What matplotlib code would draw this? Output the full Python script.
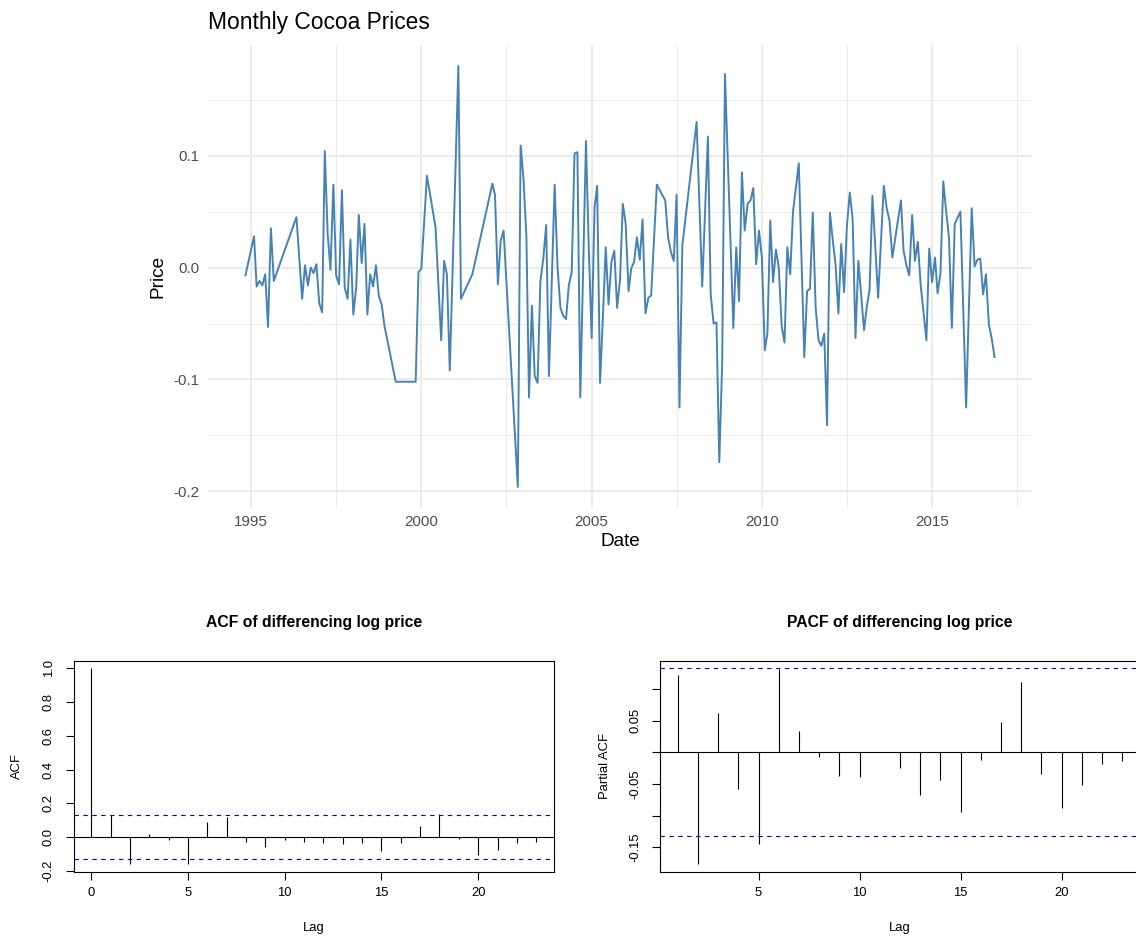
import matplotlib
matplotlib.use("Agg")
import matplotlib.pyplot as plt
import matplotlib.dates as mdates
import pandas as pd

plt.rcParams['font.family'] = ['Liberation Sans', 'DejaVu Sans']
plt.rcParams['axes.unicode_minus'] = False

# differenced log cocoa price, monthly (months absent from the source are skipped)
dates = [
    "1994-11", "1995-02", "1995-03", "1995-04", "1995-05", "1995-06", "1995-07", "1995-08", "1995-09",
    "1996-05", "1996-07", "1996-08", "1996-09", "1996-10", "1996-11", "1996-12",
    "1997-01", "1997-02", "1997-03", "1997-04", "1997-05", "1997-06", "1997-07", "1997-08", "1997-09",
    "1997-10", "1997-11", "1997-12",
    "1998-01", "1998-02", "1998-03", "1998-04", "1998-05", "1998-06", "1998-07", "1998-08", "1998-09",
    "1998-10", "1998-11", "1998-12",
    "1999-04", "1999-11", "1999-12",
    "2000-01", "2000-03", "2000-06", "2000-08", "2000-09", "2000-10", "2000-11",
    "2001-02", "2001-03", "2001-07",
    "2002-02", "2002-03", "2002-04", "2002-05", "2002-06", "2002-11", "2002-12",
    "2003-01", "2003-02", "2003-03", "2003-04", "2003-05", "2003-06", "2003-07", "2003-08", "2003-09",
    "2003-10", "2003-12",
    "2004-01", "2004-02", "2004-03", "2004-04", "2004-05", "2004-06", "2004-07", "2004-08", "2004-09",
    "2004-11", "2004-12",
    "2005-01", "2005-02", "2005-03", "2005-04", "2005-05", "2005-06", "2005-07", "2005-08", "2005-09",
    "2005-10", "2005-11", "2005-12",
    "2006-01", "2006-02", "2006-03", "2006-04", "2006-05", "2006-06", "2006-07", "2006-08", "2006-09",
    "2006-10", "2006-12",
    "2007-03", "2007-04", "2007-05", "2007-06", "2007-07", "2007-08", "2007-09",
    "2008-02", "2008-04", "2008-06", "2008-07", "2008-08", "2008-09", "2008-10", "2008-11", "2008-12",
    "2009-03", "2009-04", "2009-05", "2009-06", "2009-07", "2009-08", "2009-09", "2009-10", "2009-11",
    "2009-12",
    "2010-01", "2010-02", "2010-03", "2010-04", "2010-05", "2010-06", "2010-07", "2010-08", "2010-09",
    "2010-10", "2010-11", "2010-12",
    "2011-02", "2011-04", "2011-05", "2011-06", "2011-07", "2011-08", "2011-09", "2011-10", "2011-11",
    "2011-12",
    "2012-01", "2012-02", "2012-03", "2012-04", "2012-05", "2012-06", "2012-07", "2012-08", "2012-09",
    "2012-10", "2012-11", "2012-12",
    "2013-01", "2013-02", "2013-03", "2013-04", "2013-06", "2013-08", "2013-09", "2013-10", "2013-11",
    "2014-02", "2014-03", "2014-04", "2014-05", "2014-06", "2014-07", "2014-08", "2014-09", "2014-11",
    "2014-12",
    "2015-01", "2015-02", "2015-03", "2015-04", "2015-05", "2015-06", "2015-07", "2015-08", "2015-09",
    "2015-11",
    "2016-01", "2016-03", "2016-04", "2016-05", "2016-06", "2016-07", "2016-08", "2016-09", "2016-10",
    "2016-11",
]
price = [
    -0.007, 0.028, -0.017, -0.012, -0.016, -0.006, -0.053, 0.035, -0.012,
    0.045, -0.028, 0.002, -0.016, 0.000, -0.005, 0.003,
    -0.032, -0.040, 0.104, 0.030, -0.002, 0.074, -0.007, -0.015, 0.069,
    -0.018, -0.028, 0.025,
    -0.042, -0.018, 0.047, 0.004, 0.039, -0.042, -0.006, -0.017, 0.002,
    -0.025, -0.033, -0.052,
    -0.102, -0.102, -0.004,
    -0.001, 0.082, 0.036, -0.065, 0.006, -0.006, -0.092,
    0.180, -0.028, -0.006,
    0.075, 0.065, -0.015, 0.024, 0.033, -0.196, 0.109,
    0.079, 0.027, -0.116, -0.034, -0.097, -0.103, -0.012, 0.008, 0.038,
    -0.097, 0.074,
    0.000, -0.036, -0.043, -0.046, -0.016, -0.004, 0.102, 0.103, -0.116,
    0.113, 0.018,
    -0.063, 0.054, 0.073, -0.103, -0.045, 0.018, -0.033, 0.005, 0.015,
    -0.036, -0.011, 0.057,
    0.039, -0.021, -0.001, 0.005, 0.027, 0.007, 0.043, -0.041, -0.027,
    -0.025, 0.074,
    0.060, 0.027, 0.014, 0.006, 0.065, -0.125, 0.020,
    0.130, -0.017, 0.117, -0.024, -0.050, -0.049, -0.174, -0.086, 0.173,
    -0.054, 0.018, -0.030, 0.085, 0.033, 0.057, 0.060, 0.071, 0.003,
    0.033,
    0.009, -0.074, -0.059, 0.042, -0.013, 0.016, 0.000, -0.052, -0.067,
    0.018, -0.006, 0.050,
    0.093, -0.080, -0.021, -0.019, 0.049, -0.036, -0.065, -0.070, -0.059,
    -0.141,
    0.049, 0.024, 0.003, -0.041, 0.021, -0.022, 0.037, 0.067, 0.043,
    -0.063, 0.006, -0.024,
    -0.056, -0.034, -0.020, 0.064, -0.027, 0.073, 0.053, 0.042, 0.009,
    0.060, 0.015, 0.002, -0.007, 0.047, 0.006, 0.023, -0.016, -0.065,
    0.017,
    -0.013, 0.009, -0.023, -0.005, 0.077, 0.050, 0.027, -0.054, 0.039,
    0.050,
    -0.125, 0.053, 0.001, 0.007, 0.008, -0.024, -0.006, -0.051, -0.063,
    -0.080,
]

acf_lag = list(range(0, 24))
acf_val = [1.0, 0.128, -0.161, 0.016, -0.018, -0.161, 0.091, 0.118, -0.030, -0.057,
           -0.020, -0.030, -0.033, -0.043, -0.035, -0.083, -0.033, 0.065, 0.136, -0.014,
           -0.106, -0.075, -0.035, -0.028]
pacf_lag = list(range(1, 24))
pacf_val = [0.123, -0.177, 0.063, -0.058, -0.145, 0.132, 0.034, -0.008, -0.038, -0.039,
            0.001, -0.024, -0.067, -0.043, -0.094, -0.012, 0.048, 0.111, -0.034, -0.088,
            -0.052, -0.019, -0.014]
conf = 0.133

W, H = 1136, 939
fig = plt.figure(figsize=(W / 100, H / 100), dpi=100)


def place(left, top, right, bottom):
    return [left / W, 1 - bottom / H, (right - left) / W, (bottom - top) / H]


# ---- top: ggplot-like time series ----
ax = fig.add_axes(place(208, 45, 1032, 508))
d = pd.to_datetime(dates)
ax.plot(d, price, color='#4682B4', lw=1.4)

x0, x1 = mdates.date2num(d.min()), mdates.date2num(d.max())
ax.set_xlim(x0 - 0.05 * (x1 - x0), x1 + 0.05 * (x1 - x0))
lo, hi = min(price), max(price)
ax.set_ylim(lo - 0.05 * (hi - lo), hi + 0.05 * (hi - lo))

years = [1995, 2000, 2005, 2010, 2015]
ax.set_xticks(mdates.date2num(pd.to_datetime([f"{y}-01-01" for y in years])))
ax.set_xticklabels([str(y) for y in years])
ax.set_xticks(mdates.date2num(pd.to_datetime([f"{y + 2}-07-02" for y in years])), minor=True)
ax.set_yticks([-0.2, -0.1, 0.0, 0.1])
ax.set_yticklabels(["-0.2", "-0.1", "0.0", "0.1"])
ax.set_yticks([-0.15, -0.05, 0.05, 0.15], minor=True)

ax.grid(which='major', color='#EBEBEB', lw=1.4)
ax.grid(which='minor', color='#EBEBEB', lw=0.7)
ax.set_axisbelow(True)
for s in ax.spines.values():
    s.set_visible(False)
ax.tick_params(which='both', length=0, labelsize=10.9, labelcolor='#4D4D4D')
ax.tick_params(axis='x', pad=5)
ax.tick_params(axis='y', pad=6)
ax.set_xlabel('Date', fontsize=13.7, va='center')
ax.xaxis.set_label_coords(0.5, (508 - 541) / 463)
ax.set_ylabel('Price', fontsize=13.7, va='center')
ax.yaxis.set_label_coords((158 - 208) / 824, 0.5)
fig.text(208 / W, 1 - 22 / H, 'Monthly Cocoa Prices', fontsize=16.4, ha='left', va='center')


# ---- bottom: base-R style correlograms ----
def r_panel(rect, lags, vals, title, ylab, xticks, yticks, ylabels):
    a = fig.add_axes(rect)
    a.vlines(lags, 0, vals, color='black', lw=0.8)
    a.axhline(0, color='black', lw=0.8)
    a.axhline(conf, color='blue', lw=0.8, ls=(0, (4, 4)))
    a.axhline(-conf, color='blue', lw=0.8, ls=(0, (4, 4)))
    lo_, hi_ = min(min(vals), -conf), max(max(vals), conf)
    a.set_ylim(lo_ - 0.04 * (hi_ - lo_), hi_ + 0.04 * (hi_ - lo_))
    a.set_xlim(min(lags) - 0.04 * (max(lags) - min(lags)), max(lags) + 0.04 * (max(lags) - min(lags)))
    a.set_xticks(xticks)
    a.set_yticks(yticks)
    a.set_yticklabels(ylabels, rotation=90, va='center')
    for s in a.spines.values():
        s.set_linewidth(0.8)
    a.tick_params(direction='out', length=5.5, width=0.8, labelsize=9.4)
    a.tick_params(axis='x', pad=5)
    a.tick_params(axis='y', pad=8)
    a.set_title(title, fontsize=11.3, fontweight='bold', pad=24)
    a.set_xlabel('Lag', fontsize=9.4, va='center')
    a.xaxis.set_label_coords(0.5, -0.265)
    a.set_ylabel(ylab, fontsize=9.4, va='center')
    return a


al = r_panel(place(73.5, 660.5, 554, 872), acf_lag, acf_val,
             'ACF of differencing log price', 'ACF', [0, 5, 10, 15, 20],
             [-0.2, 0.0, 0.2, 0.4, 0.6, 0.8, 1.0],
             ["-0.2", "0.0", "0.2", "0.4", "0.6", "0.8", "1.0"])
al.yaxis.set_label_coords((17 - 73.5) / 480.5, 0.5)

ar = r_panel(place(660, 660.5, 1140, 872), pacf_lag, pacf_val,
             'PACF of differencing log price', 'Partial ACF', [5, 10, 15, 20],
             [-0.15, -0.10, -0.05, 0.0, 0.05, 0.10],
             ["-0.15", "", "-0.05", "", "0.05", ""])
ar.yaxis.set_label_coords((605 - 660) / 480, 0.5)

fig.savefig('out.png', dpi=100)
